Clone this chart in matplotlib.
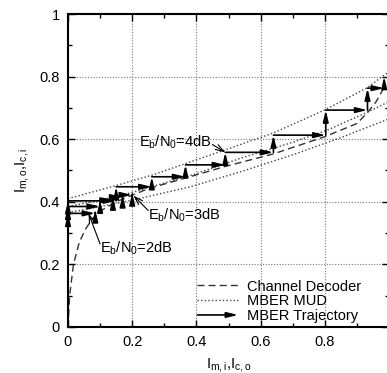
import matplotlib
matplotlib.use("Agg")
import matplotlib.pyplot as plt
from matplotlib.lines import Line2D
from matplotlib.patches import FancyArrowPatch
from matplotlib.legend_handler import HandlerBase
from matplotlib.ticker import MultipleLocator

plt.rcParams['font.family'] = ['Liberation Sans', 'DejaVu Sans']
plt.rcParams['mathtext.default'] = 'regular'

# Channel decoder EXIT curve (x = I_c,o, y = I_c,i)
dec_x = [0.0, 0.005, 0.017, 0.035, 0.053, 0.075, 0.10, 0.15, 0.25, 0.366, 0.49, 0.64, 0.80, 0.90, 0.933, 0.96, 0.99]
dec_y = [0.0, 0.10, 0.20, 0.27, 0.31, 0.345, 0.37, 0.40, 0.442, 0.476, 0.513, 0.553, 0.608, 0.65, 0.685, 0.72, 0.775]

# MBER MUD EXIT curves
mud2_x = [0.0, 0.1, 0.2, 0.381, 0.5375, 0.7, 0.85, 1.0]
mud2_y = [0.365, 0.385, 0.405, 0.448, 0.496, 0.55, 0.605, 0.665]
mud3_x = [0.0, 0.1, 0.2, 0.3, 0.4, 0.54, 0.7, 0.81, 0.93, 1.0]
mud3_y = [0.385, 0.405, 0.43, 0.46, 0.49, 0.54, 0.59, 0.63, 0.685, 0.72]
mud4_x = [0.0, 0.15, 0.261, 0.366, 0.49, 0.64, 0.803, 0.933, 0.985, 1.0]
mud4_y = [0.41, 0.452, 0.485, 0.522, 0.566, 0.62, 0.695, 0.765, 0.805, 0.815]

# MBER trajectories
traj2_x = [0.0, 0.0, 0.085, 0.085]
traj2_y = [0.0, 0.363, 0.363, 0.374]
traj3_x = [0.0, 0.0, 0.10, 0.10, 0.14, 0.14, 0.17, 0.17, 0.20, 0.20]
traj3_y = [0.0, 0.385, 0.385, 0.405, 0.405, 0.415, 0.415, 0.422, 0.422, 0.428]
traj4_x = [0.0, 0.0, 0.15, 0.15, 0.261, 0.261, 0.366, 0.366, 0.49, 0.49, 0.64, 0.64,
           0.803, 0.803, 0.933, 0.933, 0.985, 0.985]
traj4_y = [0.0, 0.403, 0.403, 0.448, 0.448, 0.48, 0.48, 0.518, 0.518, 0.558, 0.558, 0.613,
           0.613, 0.693, 0.693, 0.763, 0.763, 0.80]

labels = ["E$_b$/N$_0$=2dB", "E$_b$/N$_0$=3dB", "E$_b$/N$_0$=4dB"]
label_text_xy = [(0.10, 0.252), (0.25, 0.358), (0.22, 0.59)]
label_tip_xy = [(0.064, 0.363), (0.204, 0.42), (0.49, 0.558)]
label_tail_xy = [(0.10, 0.265), (0.25, 0.372), (0.45, 0.583)]

FS = 10.5
fig = plt.figure(figsize=(3.87, 3.73), dpi=100)
ax = fig.add_axes([68/387, 1-327/373, 321/387, 313/373])

dot_style = dict(color='#444444', lw=1.0, linestyle=(0, (1, 1.6)))
ax.plot(dec_x, dec_y, color='#333333', lw=1.0, linestyle=(0, (5, 3)))
ax.plot(mud2_x, mud2_y, **dot_style)
ax.plot(mud3_x, mud3_y, **dot_style)
ax.plot(mud4_x, mud4_y, **dot_style)

head = '-|>,head_length=0.75,head_width=0.18'
arrow_kw = dict(arrowstyle=head, lw=1.2, color='black', mutation_scale=9,
                shrinkA=0, shrinkB=0)
for tx, ty in [(traj2_x, traj2_y), (traj3_x, traj3_y), (traj4_x, traj4_y)]:
    for i in range(len(tx) - 1):
        ax.annotate('', xy=(tx[i+1], ty[i+1]), xytext=(tx[i], ty[i]),
                    arrowprops=arrow_kw)

for lab, txy, tip, tail in zip(labels, label_text_xy, label_tip_xy, label_tail_xy):
    ax.text(txy[0], txy[1], lab, fontsize=FS, ha='left', va='center')
    ax.annotate('', xy=tip, xytext=tail,
                arrowprops=dict(arrowstyle='->,head_length=0.6,head_width=0.2', lw=0.8,
                                color='black', shrinkA=0, shrinkB=0))

ax.set_xlim(0, 1)
ax.set_ylim(0, 1)
ax.set_xticks([0, 0.2, 0.4, 0.6, 0.8])
ax.set_xticklabels(['0', '0.2', '0.4', '0.6', '0.8'])
ax.set_yticks([0, 0.2, 0.4, 0.6, 0.8, 1.0])
ax.set_yticklabels(['0', '0.2', '0.4', '0.6', '0.8', '1'])
ax.xaxis.set_minor_locator(MultipleLocator(0.1))
ax.yaxis.set_minor_locator(MultipleLocator(0.1))
ax.tick_params(which='both', direction='in', top=True, right=True)
ax.tick_params(which='major', length=5, width=1, labelsize=FS, pad=6)
ax.tick_params(which='minor', length=3, width=1)
ax.grid(True, which='major', color='#777777', lw=0.8, linestyle=(0, (1, 1.5)))
for s in ax.spines.values():
    s.set_linewidth(1.5)

ax.set_xlabel("I$_{m,i}$,I$_{c,o}$", fontsize=FS, labelpad=5)
ax.set_ylabel("I$_{m,o}$,I$_{c,i}$", fontsize=FS, labelpad=6)


class ArrowHandler(HandlerBase):
    def create_artists(self, legend, orig_handle, xdescent, ydescent,
                       width, height, fontsize, trans):
        y = height / 2 - ydescent
        p = FancyArrowPatch((-xdescent, y), (width - xdescent, y),
                            arrowstyle=head, mutation_scale=9, lw=1.2,
                            color='black', shrinkA=0, shrinkB=0, transform=trans)
        return [p]


h_dec = Line2D([], [], color='#333333', lw=1.0, linestyle=(0, (5, 3)))
h_mud = Line2D([], [], **dot_style)
h_traj = FancyArrowPatch((0, 0), (1, 0))
ax.legend([h_dec, h_mud, h_traj], ['Channel Decoder', 'MBER MUD', 'MBER Trajectory'],
          handler_map={FancyArrowPatch: ArrowHandler()},
          loc='lower right', bbox_to_anchor=(0.945, -0.02), frameon=False,
          fontsize=FS, handlelength=2.8, handletextpad=0.6, labelspacing=0.05,
          borderaxespad=0.3)

fig.savefig('out.png', dpi=100)
